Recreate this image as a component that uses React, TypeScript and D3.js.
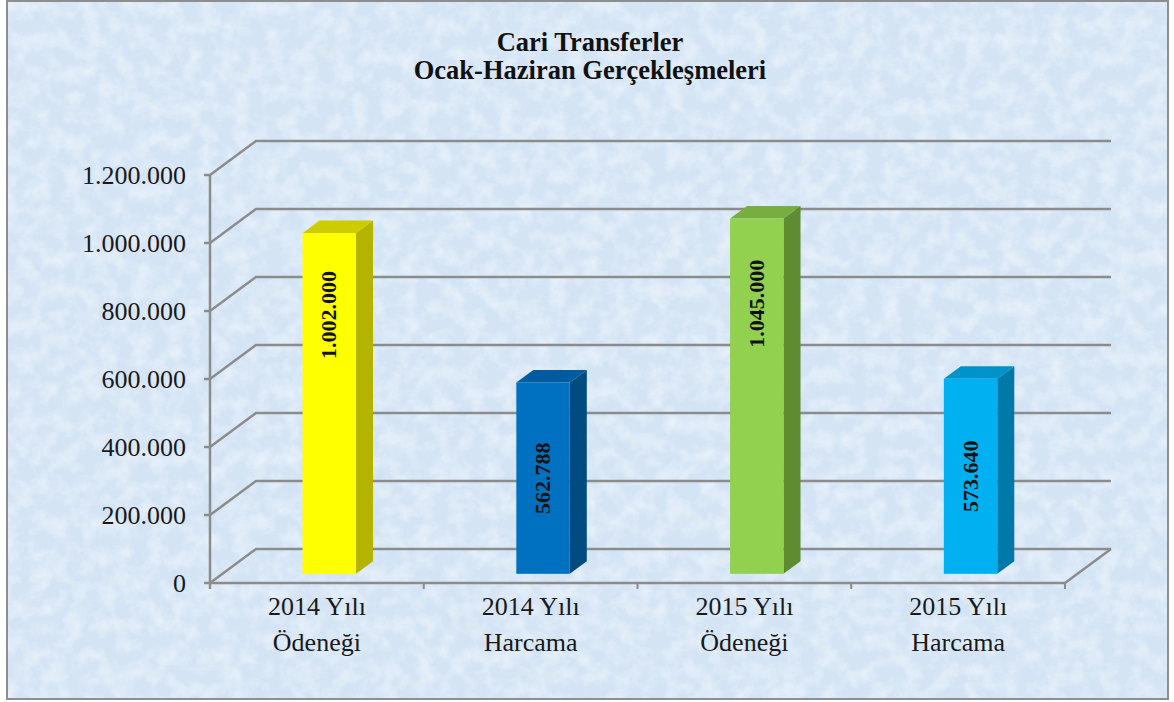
import React from "react";
import * as d3 from "d3";

// values
const categories = ["2014 Yılı|Ödeneği", "2014 Yılı|Harcama", "2015 Yılı|Ödeneği", "2015 Yılı|Harcama"];
const values = [1002000, 562788, 1045000, 573640];
const valueLabels = ["1.002.000", "562.788", "1.045.000", "573.640"];
const tickValues = [0, 200000, 400000, 600000, 800000, 1000000, 1200000];
const frontColors = ["#ffff00", "#0070c0", "#92d050", "#00b0f0"];
const sideColors = ["#b3b300", "#004b80", "#5f8c30", "#0079a8"];
const topColors = ["#cccc00", "#005c9e", "#78ad40", "#0093c9"];
const titleLines = ["Cari Transferler", "Ocak-Haziran Gerçekleşmeleri"];

const W = 1174;
const H = 702;
const plot = { left: 210, right: 1065, top: 175, bottom: 583 };
const depth = { dx: 46, dy: -34 };
const barFront = 0.27;
const barBack = 0.64;

const fmt = (v: number) => (v === 0 ? "0" : d3.format(",")(v).replace(/,/g, "."));

export default function App() {
  const y = d3.scaleLinear().domain([0, 1200000]).range([plot.bottom, plot.top]);
  const x = d3
    .scaleBand()
    .domain(categories)
    .range([plot.left, plot.right])
    .paddingInner(0.75)
    .paddingOuter(0.375);
  const step = x.step();
  const grid = "#8c8c8c";
  const serif = "Liberation Serif, Times New Roman, serif";

  return (
    <svg width={W} height={H} style={{ position: "absolute", left: 0, top: 0 }}>
      <defs>
        <filter id="tex" x="0" y="0" width="100%" height="100%">
          <feTurbulence type="fractalNoise" baseFrequency="0.06" numOctaves={4} seed={5} result="n" />
          <feColorMatrix
            in="n"
            type="matrix"
            values="0 0 0 0 1  0 0 0 0 1  0 0 0 0 1  1.5 0 0 0 -0.55"
          />
        </filter>
      </defs>
      <rect x={0} y={0} width={W} height={H} fill="#fff" />
      <rect x={7} y={1} width={1161} height={698} fill="#d4e4f5" />
      <rect x={7} y={1} width={1161} height={698} filter="url(#tex)" opacity={0.6} />
      <rect x={7} y={1} width={1161} height={698} fill="none" stroke="#8e8e8e" strokeWidth={2} />

      {/* title */}
      {titleLines.map((t, i) => (
        <text
          key={t}
          x={590}
          y={51 + i * 28}
          textAnchor="middle"
          fontFamily={serif}
          fontWeight="bold"
          fontSize={26.5}
          fill="#111"
        >
          {t}
        </text>
      ))}

      {/* gridlines: left wall + back wall */}
      {tickValues.map((t) => (
        <g key={t} stroke={grid} strokeWidth={2.5} fill="none">
          <polyline
            points={`${plot.left},${y(t)} ${plot.left + depth.dx},${y(t) + depth.dy} ${plot.right + depth.dx},${y(t) + depth.dy}`}
          />
          <line x1={plot.left - 6} x2={plot.left} y1={y(t)} y2={y(t)} />
        </g>
      ))}
      {/* floor */}
      <polyline
        points={`${plot.left},${plot.bottom} ${plot.right},${plot.bottom} ${plot.right + depth.dx},${plot.bottom + depth.dy}`}
        stroke={grid}
        strokeWidth={2.5}
        fill="none"
      />
      <line x1={plot.left} x2={plot.left} y1={plot.top} y2={plot.bottom + 6} stroke={grid} strokeWidth={2.5} />
      {d3.range(categories.length + 1).map((i) => (
        <line
          key={i}
          x1={plot.left + i * step}
          x2={plot.left + i * step}
          y1={plot.bottom}
          y2={plot.bottom + 6}
          stroke={grid}
          strokeWidth={2}
        />
      ))}

      {/* y tick labels */}
      {tickValues.map((t) => (
        <text
          key={t}
          x={186}
          y={y(t) + 9}
          textAnchor="end"
          fontFamily={serif}
          fontSize={26}
          fill="#1a1a1a"
        >
          {fmt(t)}
        </text>
      ))}

      {/* bars */}
      {categories.map((c, i) => {
        const x0 = (x(c) as number) + depth.dx * barFront;
        const x1 = x0 + x.bandwidth();
        const yb = y(0) + depth.dy * barFront;
        const yt = y(values[i]) + depth.dy * barFront;
        const ox = depth.dx * (barBack - barFront);
        const oy = depth.dy * (barBack - barFront);
        const labelV = values[i] > 800000 ? values[i] * 0.76 : values[i] / 2;
        const ly = y(labelV) + depth.dy * barFront;
        return (
          <g key={c}>
            <polygon
              points={`${x1},${yt} ${x1 + ox},${yt + oy} ${x1 + ox},${yb + oy} ${x1},${yb}`}
              fill={sideColors[i]}
            />
            <polygon
              points={`${x0},${yt} ${x0 + ox},${yt + oy} ${x1 + ox},${yt + oy} ${x1},${yt}`}
              fill={topColors[i]}
            />
            <rect x={x0} y={yt} width={x1 - x0} height={yb - yt} fill={frontColors[i]} />
            <text
              transform={`translate(${(x0 + x1) / 2 + 7},${ly}) rotate(-90)`}
              textAnchor="middle"
              fontFamily={serif}
              fontWeight="bold"
              fontSize={22}
              fill="#111"
            >
              {valueLabels[i]}
            </text>
          </g>
        );
      })}

      {/* category labels */}
      {categories.map((c) => {
        const cx = (x(c) as number) + x.bandwidth() / 2;
        return (
          <text key={c} textAnchor="middle" fontFamily={serif} fontSize={26} fill="#1a1a1a">
            {c.split("|").map((ln, j) => (
              <tspan key={j} x={cx} y={615 + j * 36}>
                {ln}
              </tspan>
            ))}
          </text>
        );
      })}
    </svg>
  );
}
